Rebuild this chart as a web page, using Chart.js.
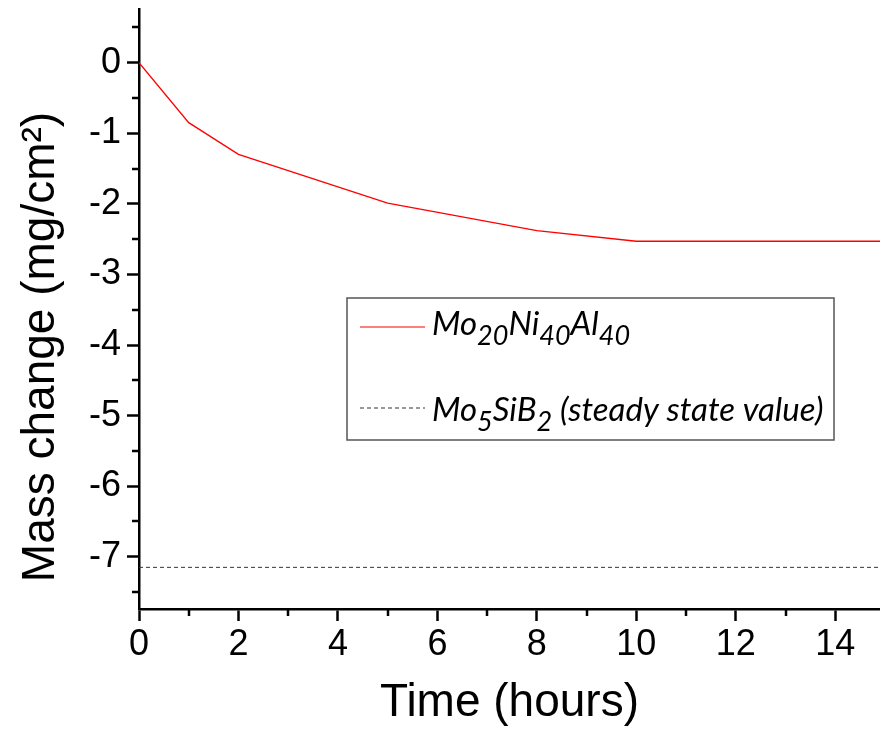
<!DOCTYPE html>
<html>
<head>
<meta charset="utf-8">
<script src="https://cdn.jsdelivr.net/npm/chart.js@4"></script>
<style>
  html, body { margin: 0; padding: 0; background: #fff; }
  #wrap { width: 880px; height: 737px; position: relative; }
</style>
</head>
<body>
<div id="wrap"><canvas id="massChart"></canvas></div>
<script>
// oxidation test data
const timeHours = [0, 1, 2, 5, 8, 10, 15];
const massChange = [0, -0.85, -1.30, -1.99, -2.38, -2.53, -2.53];
const steadyTime = [0, 15];
const steadyValue = [-7.15, -7.15];

const xMajorTicks = [0, 2, 4, 6, 8, 10, 12, 14];
const xMinorTicks = [1, 3, 5, 7, 9, 11, 13];
const yMajorTicks = [0, -1, -2, -3, -4, -5, -6, -7];
const yMinorTicks = [0.5, -0.5, -1.5, -2.5, -3.5, -4.5, -5.5, -6.5, -7.5];

const yTitle = 'Mass change (mg/cm²)';
const xTitle = 'Time (hours)';

// legend labels as [text, isSubscript] runs
const legendLabels = [
  [['Mo', 0], ['20', 1], ['Ni', 0], ['40', 1], ['Al', 0], ['40', 1]],
  [['Mo', 0], ['5', 1], ['SiB', 0], ['2', 1], [' (steady state value)', 0]]
];

const AXIS_FONT = 'Liberation Sans, Arial, sans-serif';

const extrasPlugin = {
  id: 'extras',
  afterDraw(chart) {
    const ctx = chart.ctx;
    const xs = chart.scales.x, ys = chart.scales.y;
    const area = chart.chartArea;
    ctx.save();
    // minor ticks
    ctx.strokeStyle = '#000';
    ctx.lineWidth = 2.5;
    ctx.beginPath();
    xMinorTicks.forEach(v => {
      const px = Math.round(xs.getPixelForValue(v));
      ctx.moveTo(px, area.bottom);
      ctx.lineTo(px, area.bottom + 7);
    });
    yMinorTicks.forEach(v => {
      const py = Math.round(ys.getPixelForValue(v));
      ctx.moveTo(area.left, py);
      ctx.lineTo(area.left - 7, py);
    });
    ctx.stroke();

    // y axis title, sits a bit lower than the plot centre in the original
    ctx.save();
    ctx.translate(41, 347);
    ctx.rotate(-Math.PI / 2);
    ctx.font = '46px ' + AXIS_FONT;
    ctx.fillStyle = '#000';
    ctx.textAlign = 'center';
    ctx.textBaseline = 'middle';
    ctx.fillText(yTitle, 0, 0);
    ctx.restore();

    // legend box
    const box = { left: 347, top: 298, right: 834, bottom: 440 };
    ctx.strokeStyle = '#555';
    ctx.lineWidth = 1.5;
    ctx.strokeRect(box.left, box.top, box.right - box.left, box.bottom - box.top);

    const rows = [
      { lineY: 327, baseY: 335, ds: chart.data.datasets[0] },
      { lineY: 408, baseY: 421, ds: chart.data.datasets[1] }
    ];
    rows.forEach((r, i) => {
      ctx.strokeStyle = r.ds.borderColor;
      ctx.lineWidth = 1.2;
      ctx.setLineDash(r.ds.borderDash || []);
      ctx.beginPath();
      ctx.moveTo(360, r.lineY);
      ctx.lineTo(425, r.lineY);
      ctx.stroke();
      ctx.setLineDash([]);

      let x = 432;
      ctx.fillStyle = '#000';
      ctx.textBaseline = 'alphabetic';
      ctx.textAlign = 'left';
      legendLabels[i].forEach(([t, sub]) => {
        ctx.font = sub ? 'italic 27px Lato, sans-serif' : 'italic 33px Lato, sans-serif';
        ctx.fillText(t, x, r.baseY + (sub ? 10 : 0));
        x += ctx.measureText(t).width;
      });
    });
    ctx.restore();
  }
};

new Chart(document.getElementById('massChart'), {
  type: 'line',
  data: {
    datasets: [{
      label: 'Mo20Ni40Al40',
      data: timeHours.map((t, i) => ({ x: t, y: massChange[i] })),
      borderColor: '#ff0000',
      borderWidth: 1.3,
      pointRadius: 0,
      tension: 0
    }, {
      label: 'Mo5SiB2 (steady state value)',
      data: steadyTime.map((t, i) => ({ x: t, y: steadyValue[i] })),
      borderColor: '#333',
      borderWidth: 1,
      borderDash: [4, 3],
      pointRadius: 0
    }]
  },
  options: {
    responsive: true,
    maintainAspectRatio: false,
    animation: false,
    layout: { padding: { top: 9, right: 0, bottom: 0, left: 0 } },
    plugins: { legend: { display: false }, tooltip: { enabled: false } },
    scales: {
      x: {
        type: 'linear',
        min: 0,
        max: 14.9,
        afterBuildTicks: s => { s.ticks = xMajorTicks.map(v => ({ value: v })); },
        afterFit: s => { s.height = 128; s.paddingLeft = 0; s.paddingRight = 0; },
        grid: { drawOnChartArea: false, tickLength: 12, tickWidth: 2.5, tickColor: '#000' },
        border: { display: true, color: '#000', width: 2.5 },
        ticks: { font: { family: AXIS_FONT, size: 36 }, color: '#000', padding: 2, maxRotation: 0, autoSkip: false },
        title: {
          display: true,
          text: xTitle,
          color: '#000',
          font: { family: AXIS_FONT, size: 46 },
          padding: { top: 0, bottom: 6 }
        }
      },
      y: {
        type: 'linear',
        min: -7.74,
        max: 0.76,
        afterBuildTicks: s => { s.ticks = yMajorTicks.map(v => ({ value: v })); },
        afterFit: s => { s.width = 139; s.paddingTop = 0; s.paddingBottom = 0; },
        grid: { drawOnChartArea: false, tickLength: 12, tickWidth: 2.5, tickColor: '#000' },
        border: { display: true, color: '#000', width: 2.5 },
        ticks: { font: { family: AXIS_FONT, size: 36 }, color: '#000', padding: 6, autoSkip: false },
        title: { display: false }
      }
    }
  },
  plugins: [extrasPlugin]
});
</script>
</body>
</html>
